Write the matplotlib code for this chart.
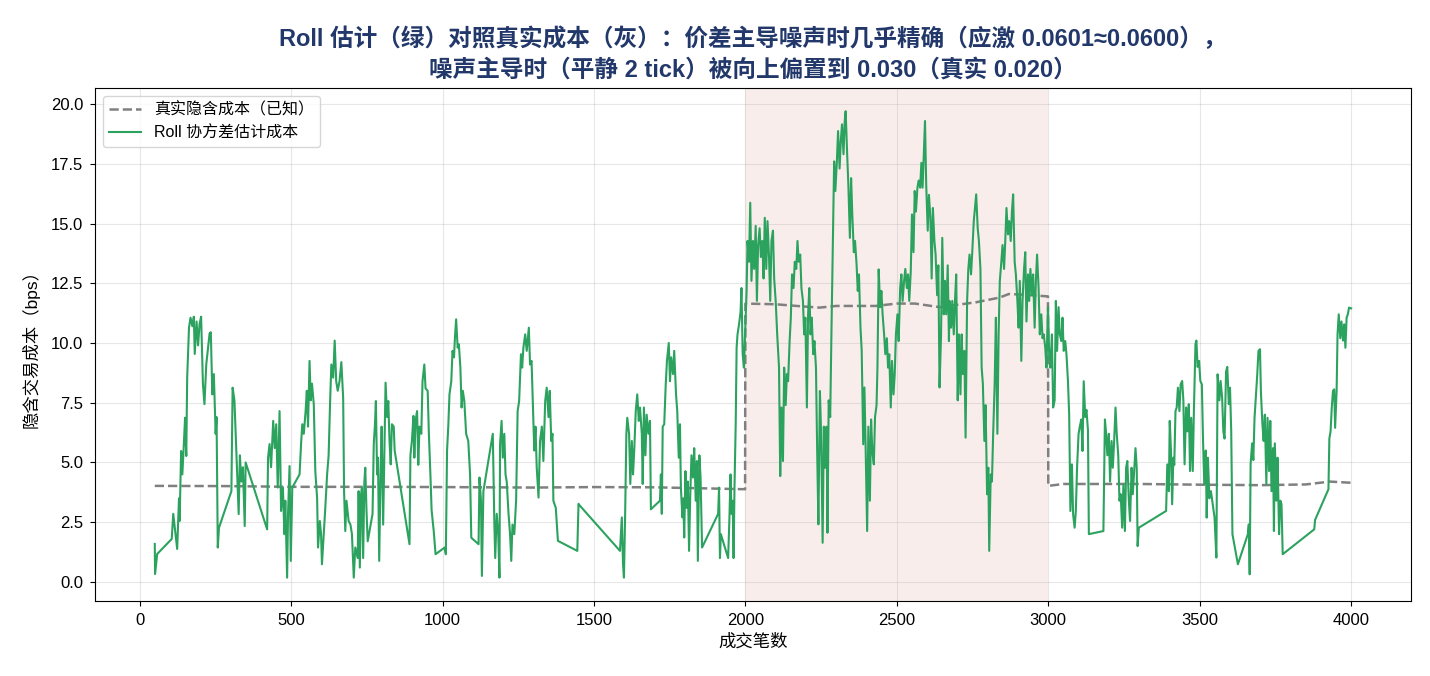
import matplotlib.pyplot as plt

# 字体：西文用 Liberation Sans，中文回退 Noto Sans CJK SC
plt.rcParams['font.family'] = ['Liberation Sans', 'Noto Sans CJK SC', 'DejaVu Sans']
plt.rcParams['axes.unicode_minus'] = False

# 真实隐含成本（灰色虚线）
true_points = [
    (50, 4.02), (300, 4.01), (500, 3.98), (800, 3.98), (1000, 3.97), (1300, 3.95),
    (1500, 3.97), (1700, 3.96), (1850, 3.92), (1999, 3.88),
    (2000, 11.65), (2100, 11.62), (2200, 11.52), (2245, 11.48), (2300, 11.55),
    (2430, 11.55), (2500, 11.65), (2560, 11.65), (2641, 11.5), (2700, 11.6),
    (2760, 11.7), (2839, 11.9), (2870, 12.05), (2920, 12.02), (2999, 11.95),
    (3000, 4.02), (3050, 4.1), (3300, 4.1), (3500, 4.07), (3700, 4.05),
    (3850, 4.08), (3930, 4.2), (4000, 4.15),
]

# Roll 协方差估计成本（绿色实线），按图逐段读取
roll_points = [
    (50, 1.59), (51, 0.33), (58, 1.17), (106, 1.8), (111, 2.85), (124, 1.38), (130, 3.5),
    (132, 2.55), (137, 5.48), (141, 4.5), (146, 5.76), (150, 6.87), (154, 5.27), (157, 8.55),
    (163, 10.64), (168, 11.06), (174, 10.7), (179, 11.1), (182, 9.54), (188, 10.9), (193, 9.9),
    (198, 10.8), (203, 11.1), (209, 8.28), (214, 7.44), (220, 9.1), (225, 9.7), (231, 10.4),
    (235, 10.45), (240, 7.85), (245, 8.7), (251, 6.2), (254, 6.9), (258, 1.44), (262, 2.27),
    (303, 3.8), (307, 8.13), (313, 7.6), (322, 4.5), (327, 2.84), (331, 5.3), (336, 4.2),
    (341, 4.8), (347, 2.34), (350, 5.0), (421, 2.2), (424, 5.2), (429, 5.77), (434, 4.8),
    (441, 6.74), (446, 5.6), (451, 6.6), (456, 3.95), (462, 7.15), (467, 2.97), (473, 3.95),
    (478, 2.0), (481, 3.4), (487, 0.18), (490, 2.85), (495, 4.85), (499, 0.88), (504, 3.95),
    (528, 4.5), (533, 5.77), (537, 6.6), (542, 6.2), (548, 7.15), (552, 8.0), (556, 6.5),
    (561, 9.25), (565, 7.6), (569, 8.3), (575, 7.44), (580, 4.64), (586, 3.5), (589, 1.44),
    (595, 2.55), (599, 2.0), (602, 0.74), (608, 2.0), (613, 3.1), (619, 4.5), (624, 5.3),
    (629, 7.6), (633, 9.1), (639, 8.55), (644, 10.1), (649, 8.4), (654, 8.0), (660, 8.4),
    (666, 9.2), (672, 7.7), (675, 3.8), (679, 2.13), (683, 3.4), (690, 2.55), (696, 2.4),
    (701, 2.0), (707, 0.18), (712, 1.44), (720, 1.0), (723, 3.8), (727, 0.6), (731, 3.66),
    (734, 3.95), (738, 1.0), (742, 4.2), (745, 4.78), (749, 3.0), (753, 1.7), (769, 2.85),
    (773, 5.76), (777, 6.6), (780, 7.57), (784, 4.5), (787, 5.2), (791, 0.88), (795, 4.2),
    (799, 6.5), (804, 2.4), (808, 5.5), (812, 8.34), (817, 6.9), (821, 7.57), (825, 5.9),
    (829, 4.92), (833, 6.6), (839, 6.5), (842, 5.5), (891, 1.58), (894, 5.3), (899, 5.9),
    (904, 6.95), (907, 5.2), (911, 6.74), (916, 7.15), (920, 4.9), (924, 6.5), (930, 6.2),
    (934, 8.4), (940, 9.1), (944, 8.1), (951, 8.0), (955, 6.2), (960, 4.5), (964, 3.0),
    (971, 2.13), (977, 1.16), (1007, 1.44), (1011, 1.16), (1015, 5.5), (1019, 6.5),
    (1023, 7.85), (1029, 8.4), (1033, 9.67), (1038, 9.4), (1041, 10.22), (1045, 10.99),
    (1050, 9.8), (1054, 9.95), (1059, 8.97), (1063, 7.3), (1067, 8.0), (1072, 7.57),
    (1078, 6.2), (1085, 5.9), (1091, 4.5), (1095, 1.85), (1119, 1.58), (1122, 4.37),
    (1127, 3.4), (1130, 0.25), (1135, 3.8), (1166, 6.2), (1171, 2.55), (1174, 1.0),
    (1179, 2.85), (1184, 2.0), (1188, 0.18), (1190, 5.76), (1195, 6.74), (1199, 5.2),
    (1204, 6.2), (1208, 4.5), (1212, 4.2), (1218, 2.85), (1223, 2.0), (1227, 0.88),
    (1231, 2.4), (1237, 2.0), (1243, 3.4), (1248, 7.15), (1253, 7.57), (1259, 9.53),
    (1263, 8.97), (1267, 9.8), (1273, 10.36), (1278, 9.67), (1285, 10.64), (1289, 9.1),
    (1294, 9.25), (1298, 7.57), (1303, 5.5), (1307, 6.5), (1311, 4.8), (1317, 3.53),
    (1322, 5.9), (1328, 6.5), (1333, 5.06), (1339, 7.57), (1344, 8.13), (1350, 6.9),
    (1354, 8.0), (1359, 5.9), (1363, 6.2), (1366, 3.4), (1374, 3.1), (1381, 1.72),
    (1445, 1.3), (1449, 3.27), (1453, 3.2), (1586, 1.3), (1592, 2.7), (1596, 0.74),
    (1599, 0.18), (1603, 2.85), (1607, 6.2), (1610, 6.87), (1616, 6.2), (1620, 4.1),
    (1625, 5.9), (1629, 4.5), (1633, 5.5), (1638, 7.15), (1643, 7.85), (1648, 6.74),
    (1652, 7.3), (1658, 6.2), (1661, 4.1), (1665, 7.3), (1670, 5.3), (1674, 7.0),
    (1680, 6.2), (1685, 6.74), (1688, 3.04), (1718, 3.4), (1721, 4.5), (1724, 2.85),
    (1727, 6.5), (1732, 6.6), (1737, 8.27), (1741, 9.25), (1747, 10.0), (1751, 8.4),
    (1755, 9.4), (1761, 8.7), (1765, 9.67), (1771, 7.85), (1775, 7.15), (1780, 5.2),
    (1784, 6.6), (1787, 3.95), (1792, 2.7), (1795, 3.5), (1798, 1.86), (1802, 4.64),
    (1806, 3.1), (1810, 4.2), (1814, 1.3), (1818, 3.66), (1822, 5.3), (1827, 4.37),
    (1831, 5.6), (1836, 3.4), (1840, 5.06), (1843, 0.88), (1848, 5.3), (1852, 4.37),
    (1857, 1.44), (1910, 2.85), (1913, 3.95), (1916, 1.0), (1919, 2.0), (1943, 1.0),
    (1947, 2.55), (1951, 4.5), (1954, 2.85), (1958, 3.4), (1961, 1.0), (1964, 3.95),
    (1968, 6.6), (1971, 9.8), (1974, 10.36), (1979, 10.78), (1984, 11.3), (1987, 12.3),
    (1991, 9.53), (1995, 8.97), (1999, 10.36), (2004, 12.18), (2007, 14.27), (2012, 13.4),
    (2016, 15.87), (2020, 12.6), (2025, 14.27), (2029, 13.1), (2034, 14.9), (2038, 11.76),
    (2042, 14.1), (2047, 14.8), (2051, 13.6), (2056, 14.27), (2060, 12.7), (2064, 15.24),
    (2069, 13.1), (2073, 15.1), (2078, 13.6), (2082, 11.76), (2086, 14.27), (2091, 14.7),
    (2095, 12.7), (2100, 11.76), (2105, 10.36), (2111, 8.97), (2115, 4.43), (2119, 7.3),
    (2124, 5.06), (2128, 8.97), (2133, 7.4), (2137, 8.7), (2141, 8.4), (2146, 10.08),
    (2150, 11.06), (2154, 12.87), (2159, 12.3), (2163, 13.4), (2168, 13.1), (2172, 14.27),
    (2176, 13.4), (2181, 13.7), (2185, 12.3), (2190, 11.76), (2194, 10.36), (2198, 11.06),
    (2203, 7.3), (2207, 11.2), (2211, 12.3), (2215, 10.36), (2219, 11.06), (2224, 9.53),
    (2228, 10.08), (2233, 8.97), (2237, 5.48), (2241, 2.41), (2246, 7.99), (2250, 6.2),
    (2255, 1.64), (2259, 6.5), (2263, 4.78), (2268, 6.5), (2271, 2.06), (2275, 7.6),
    (2280, 6.9), (2284, 10.36), (2289, 14.27), (2293, 17.6), (2297, 16.36), (2302, 17.6),
    (2306, 18.87), (2311, 17.3), (2315, 18.45), (2319, 19.15), (2324, 17.9), (2328, 19.3),
    (2331, 19.7), (2336, 17.9), (2340, 16.6), (2345, 14.4), (2349, 16.9), (2353, 15.36),
    (2358, 13.8), (2362, 14.27), (2367, 13.3), (2371, 12.18), (2375, 12.87), (2380, 10.64),
    (2384, 9.67), (2389, 5.76), (2393, 8.14), (2397, 5.6), (2402, 2.13), (2406, 6.5),
    (2411, 3.4), (2415, 6.8), (2419, 5.48), (2424, 4.92), (2428, 6.9), (2433, 7.4),
    (2436, 8.97), (2440, 13.08), (2445, 11.5), (2449, 12.18), (2453, 11.2), (2458, 10.36),
    (2462, 9.53), (2467, 10.2), (2471, 8.97), (2475, 9.53), (2480, 7.3), (2484, 9.25),
    (2489, 7.85), (2493, 8.7), (2497, 10.36), (2502, 11.2), (2506, 10.08), (2511, 12.3),
    (2515, 12.87), (2519, 11.76), (2524, 12.6), (2528, 13.1), (2533, 12.3), (2537, 12.87),
    (2541, 11.76), (2546, 13.0), (2550, 15.38), (2555, 13.8), (2559, 16.36), (2563, 15.5),
    (2568, 16.5), (2572, 16.8), (2577, 16.5), (2581, 17.54), (2585, 16.5), (2590, 18.3),
    (2593, 19.29), (2597, 16.6), (2602, 14.7), (2606, 16.2), (2611, 15.2), (2615, 12.7),
    (2619, 15.65), (2624, 14.27), (2628, 13.7), (2633, 12.0), (2637, 13.25), (2641, 8.14),
    (2646, 10.36), (2650, 14.4), (2655, 11.2), (2659, 12.6), (2663, 11.2), (2668, 13.25),
    (2672, 10.08), (2674, 11.76), (2679, 10.64), (2683, 11.76), (2688, 10.36), (2692, 11.76),
    (2696, 12.87), (2701, 7.6), (2705, 10.36), (2710, 7.85), (2714, 10.36), (2718, 8.7),
    (2723, 9.67), (2727, 6.04), (2732, 11.76), (2736, 13.1), (2740, 13.7), (2745, 12.87),
    (2749, 13.8), (2754, 15.1), (2758, 15.65), (2762, 16.22), (2767, 14.8), (2771, 14.27),
    (2776, 13.1), (2780, 8.97), (2784, 8.3), (2789, 5.9), (2793, 7.4), (2798, 3.67),
    (2802, 4.78), (2805, 1.3), (2810, 4.5), (2814, 4.2), (2818, 6.2), (2823, 8.3),
    (2827, 11.06), (2832, 6.2), (2836, 10.36), (2840, 12.6), (2845, 13.4), (2849, 14.1),
    (2854, 13.1), (2858, 14.27), (2862, 15.65), (2867, 14.55), (2871, 15.1), (2876, 14.27),
    (2880, 15.5), (2884, 16.22), (2889, 13.4), (2893, 12.87), (2898, 11.76), (2902, 10.64),
    (2906, 12.6), (2911, 9.25), (2915, 11.76), (2920, 13.1), (2924, 13.8), (2928, 10.9),
    (2933, 12.87), (2937, 11.76), (2941, 13.1), (2946, 12.0), (2950, 12.87), (2955, 10.64),
    (2959, 12.6), (2963, 13.7), (2968, 12.3), (2972, 10.36), (2977, 11.2), (2981, 10.2),
    (2985, 10.36), (2990, 9.8), (2994, 8.97), (2999, 11.5), (3003, 9.53), (3007, 8.97),
    (3012, 10.36), (3016, 7.3), (3021, 7.6), (3025, 11.76), (3029, 9.67), (3034, 11.5),
    (3038, 10.36), (3043, 10.08), (3047, 11.06), (3051, 9.67), (3056, 10.08), (3060, 9.53),
    (3065, 8.4), (3069, 7.0), (3073, 2.97), (3078, 4.92), (3082, 2.83), (3087, 2.27),
    (3091, 2.97), (3095, 4.78), (3100, 6.2), (3104, 6.5), (3109, 6.8), (3113, 5.48),
    (3117, 8.4), (3122, 6.9), (3126, 7.2), (3131, 6.35), (3134, 2.0), (3182, 2.13),
    (3187, 6.8), (3191, 6.2), (3195, 5.3), (3200, 6.2), (3204, 4.2), (3209, 5.9),
    (3213, 4.78), (3217, 5.76), (3222, 7.3), (3226, 6.2), (3231, 5.3), (3235, 3.4),
    (3239, 3.67), (3244, 2.27), (3248, 4.06), (3253, 2.13), (3257, 4.78), (3261, 5.06),
    (3266, 3.4), (3270, 2.55), (3275, 4.78), (3279, 3.67), (3283, 4.5), (3288, 5.6),
    (3292, 4.78), (3295, 1.5), (3299, 2.27), (3389, 2.97), (3393, 4.92), (3398, 3.8),
    (3401, 6.74), (3405, 5.5), (3409, 3.25), (3413, 5.2), (3416, 4.9), (3420, 7.15),
    (3424, 7.3), (3428, 8.13), (3433, 7.15), (3437, 8.27), (3442, 8.41), (3446, 7.6),
    (3450, 4.92), (3455, 7.3), (3459, 6.3), (3464, 7.44), (3468, 4.64), (3472, 6.87),
    (3477, 4.64), (3481, 7.3), (3486, 9.95), (3489, 10.1), (3493, 9.0), (3498, 9.25),
    (3502, 8.41), (3507, 8.27), (3511, 5.9), (3515, 4.1), (3520, 5.5), (3523, 2.69),
    (3527, 5.2), (3532, 3.5), (3537, 3.8), (3543, 3.25), (3549, 2.69), (3555, 1.02),
    (3559, 8.69), (3565, 7.6), (3569, 8.41), (3574, 7.7), (3578, 6.3), (3582, 6.0),
    (3587, 8.8), (3591, 9.0), (3596, 7.44), (3600, 8.13), (3604, 6.3), (3608, 2.0),
    (3626, 0.74), (3659, 2.0), (3662, 2.41), (3665, 0.32), (3668, 4.92), (3673, 5.8),
    (3677, 5.1), (3681, 6.87), (3686, 7.85), (3690, 8.69), (3694, 9.67), (3699, 9.74),
    (3702, 7.96), (3707, 6.6), (3711, 5.9), (3715, 7.0), (3720, 4.1), (3724, 6.87),
    (3729, 4.64), (3733, 6.74), (3737, 3.8), (3742, 5.6), (3745, 2.13), (3748, 5.8),
    (3753, 3.4), (3757, 5.2), (3762, 2.0), (3766, 3.4), (3770, 3.25), (3774, 1.16),
    (3878, 2.2), (3881, 2.6), (3925, 3.88), (3928, 6.0), (3932, 6.3), (3936, 7.3),
    (3940, 8.0), (3944, 8.06), (3947, 6.45), (3952, 8.0), (3955, 10.36), (3959, 11.2),
    (3964, 10.2), (3968, 10.9), (3973, 10.1), (3977, 10.78), (3981, 9.8), (3985, 11.06),
    (3989, 11.2), (3993, 11.48), (4000, 11.45),
]

true_x = [p[0] for p in true_points]
true_y = [p[1] for p in true_points]
roll_x = [p[0] for p in roll_points]
roll_y = [p[1] for p in roll_points]

# 应激区间
stress_start, stress_end = 2000, 3000

fig, ax = plt.subplots(figsize=(14.3, 6.76), dpi=100)
fig.subplots_adjust(left=0.0664, right=0.9867, top=0.870, bottom=0.111)

ax.axvspan(stress_start, stress_end, color='#c0392b', alpha=0.09, lw=0)
ax.plot(true_x, true_y, '--', color='#808080', lw=1.8, label='真实隐含成本（已知）')
ax.plot(roll_x, roll_y, color='#2ca25f', lw=1.5, label='Roll 协方差估计成本')

ax.grid(alpha=0.3)
ax.tick_params(labelsize=12, pad=5)
ax.set_xlabel('成交笔数', fontsize=12.5)
ax.set_ylabel('隐含交易成本（bps）', fontsize=12.5, labelpad=8)
ax.set_title('Roll 估计（绿）对照真实成本（灰）：价差主导噪声时几乎精确（应激 0.0601≈0.0600），\n'
             '噪声主导时（平静 2 tick）被向上偏置到 0.030（真实 0.020）',
             fontsize=17, fontweight='bold', color='#22386a', pad=8, linespacing=1.45)
ax.legend(loc='upper left', fontsize=11.5)

fig.savefig('out.png')
